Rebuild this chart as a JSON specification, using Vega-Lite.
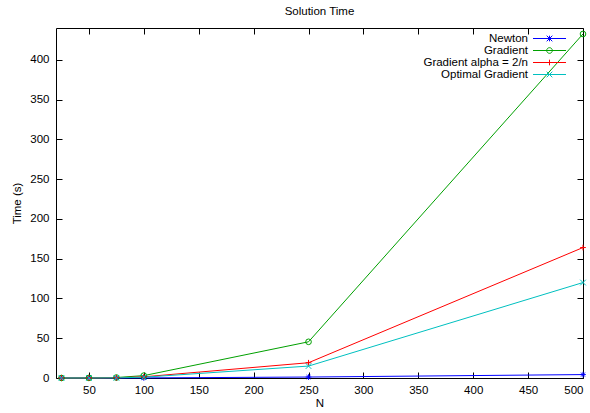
{
  "$schema": "https://vega.github.io/schema/vega-lite/v6.json",
  "width": 527,
  "height": 350,
  "autosize": "none",
  "padding": {"left": 56, "top": 28, "right": 7, "bottom": 35},
  "background": "white",
  "title": {"text": "Solution Time", "fontSize": 11.5, "fontWeight": "normal", "font": "Liberation Sans", "color": "black", "offset": 10, "anchor": "middle"},
  "data": {"values": [
    {"series": "Newton", "N": 25, "time": 0.01},
    {"series": "Newton", "N": 50, "time": 0.02},
    {"series": "Newton", "N": 75, "time": 0.05},
    {"series": "Newton", "N": 100, "time": 0.1},
    {"series": "Newton", "N": 250, "time": 1.2},
    {"series": "Newton", "N": 500, "time": 4.3},
    {"series": "Gradient", "N": 25, "time": 0.02},
    {"series": "Gradient", "N": 50, "time": 0.1},
    {"series": "Gradient", "N": 75, "time": 0.6},
    {"series": "Gradient", "N": 100, "time": 3},
    {"series": "Gradient", "N": 250, "time": 45.5},
    {"series": "Gradient", "N": 500, "time": 432.5},
    {"series": "Gradient alpha = 2/n", "N": 25, "time": 0.01},
    {"series": "Gradient alpha = 2/n", "N": 50, "time": 0.05},
    {"series": "Gradient alpha = 2/n", "N": 75, "time": 0.3},
    {"series": "Gradient alpha = 2/n", "N": 100, "time": 1.5},
    {"series": "Gradient alpha = 2/n", "N": 250, "time": 19.2},
    {"series": "Gradient alpha = 2/n", "N": 500, "time": 164},
    {"series": "Optimal Gradient", "N": 25, "time": 0.01},
    {"series": "Optimal Gradient", "N": 50, "time": 0.05},
    {"series": "Optimal Gradient", "N": 75, "time": 0.2},
    {"series": "Optimal Gradient", "N": 100, "time": 1.0},
    {"series": "Optimal Gradient", "N": 250, "time": 15},
    {"series": "Optimal Gradient", "N": 500, "time": 120}
  ]},
  "layer": [
    {
      "mark": {"type": "line", "strokeWidth": 1},
      "encoding": {
        "x": {"field": "N", "type": "quantitative", "scale": {"domain": [20, 500], "nice": false, "zero": false},
              "axis": {"orient": "bottom", "title": "N", "values": [50,100,150,200,250,300,350,400,450,500], "labelPadding": 12, "titlePadding": 2}},
        "y": {"field": "time", "type": "quantitative", "scale": {"domain": [0, 440], "nice": false},
              "axis": {"orient": "left", "title": "Time (s)", "values": [0,50,100,150,200,250,300,350,400], "labelPadding": 13, "titlePadding": 7}},
        "color": {"field": "series", "type": "nominal",
                  "scale": {"domain": ["Newton", "Gradient", "Gradient alpha = 2/n", "Optimal Gradient"], "range": ["#0000ff", "#00a000", "#ff0000", "#00c0c0"]},
                  "legend": {"title": null, "orient": "none", "legendX": 487, "legendY": 4, "padding": 0, "symbolSize": 144, "symbolStrokeWidth": 1,
                             "labelAlign": "right", "labelOffset": -28, "labelFontSize": 11.5, "labelFont": "Liberation Sans", "labelColor": "black",
                             "rowPadding": 0, "labelLimit": 300,
                             "encode": {"symbols": {"update": {
                               "fill": {"value": "transparent"},
                               "stroke": {"scale": "color", "field": "value"},
                               "shape": {"signal": "datum.value === 'Newton' ? 'M-2.75,0H2.75M0,-0.47V0.47M-0.47,-0.47L0.47,0.47M-0.47,0.47L0.47,-0.47' : datum.value === 'Gradient' ? 'M-2.75,0H2.75M-0.47,0A0.47,0.47 0 1,1 0.47,0A0.47,0.47 0 1,1 -0.47,0' : datum.value === 'Optimal Gradient' ? 'M-2.75,0H2.75M-0.47,-0.47L0.47,0.47M-0.47,0.47L0.47,-0.47' : 'M-2.75,0H2.75M0,-0.47V0.47'"}
                             }}}},
                  "sort": null},
        "order": {"field": "N", "type": "quantitative"}
      }
    },
    {
      "transform": [{"filter": "datum.series === 'Newton'"}],
      "mark": {"type": "point", "filled": false, "strokeWidth": 1, "size": 32, "opacity": 1, "shape": "M0,-1V1M-1,0H1M-0.7,-0.7L0.7,0.7M-0.7,0.7L0.7,-0.7"},
      "encoding": {
        "x": {"field": "N", "type": "quantitative",
              "axis": {"orient": "top", "labels": false, "title": null, "values": [50,100,150,200,250,300,350,400,450,500]}},
        "y": {"field": "time", "type": "quantitative",
              "axis": {"orient": "right", "labels": false, "title": null, "values": [0,50,100,150,200,250,300,350,400]}},
        "color": {"field": "series", "type": "nominal"}
      }
    },
    {
      "transform": [{"filter": "datum.series === 'Gradient'"}],
      "mark": {"type": "point", "filled": false, "strokeWidth": 1, "size": 32, "opacity": 1, "shape": "circle"},
      "encoding": {
        "x": {"field": "N", "type": "quantitative", "axis": null},
        "y": {"field": "time", "type": "quantitative", "axis": null},
        "color": {"field": "series", "type": "nominal"}
      }
    },
    {
      "transform": [{"filter": "datum.series === 'Gradient alpha = 2/n'"}],
      "mark": {"type": "point", "filled": false, "strokeWidth": 1, "size": 32, "opacity": 1, "shape": "M0,-1V1M-1,0H1"},
      "encoding": {
        "x": {"field": "N", "type": "quantitative", "axis": null},
        "y": {"field": "time", "type": "quantitative", "axis": null},
        "color": {"field": "series", "type": "nominal"}
      }
    },
    {
      "transform": [{"filter": "datum.series === 'Optimal Gradient'"}],
      "mark": {"type": "point", "filled": false, "strokeWidth": 1, "size": 32, "opacity": 1, "shape": "M-1,-1L1,1M-1,1L1,-1"},
      "encoding": {
        "x": {"field": "N", "type": "quantitative", "axis": null},
        "y": {"field": "time", "type": "quantitative", "axis": null},
        "color": {"field": "series", "type": "nominal"}
      }
    }
  ],
  "resolve": {"axis": {"x": "independent", "y": "independent"}},
  "config": {
    "font": "Liberation Sans",
    "view": {"stroke": "black", "strokeWidth": 1},
    "axis": {"grid": false, "domain": false, "tickColor": "black", "tickSize": -6, "labelFontSize": 11.5, "labelColor": "black",
             "titleFontSize": 11.5, "titleFontWeight": "normal", "titleColor": "black", "labelFont": "Liberation Sans", "titleFont": "Liberation Sans"}
  }
}
